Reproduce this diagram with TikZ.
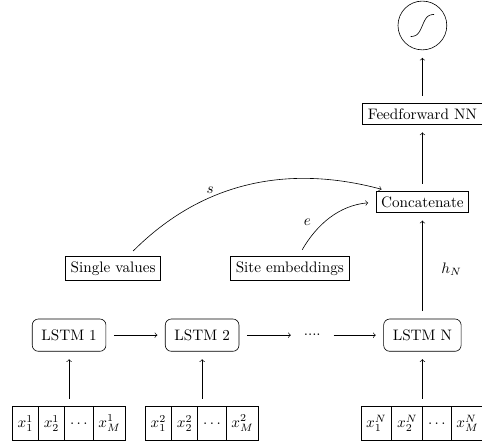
\documentclass[tikz,border=0pt]{standalone}
\usetikzlibrary{shapes.multipart}
\begin{document}
\begin{tikzpicture}[box/.style={draw},lstm/.style={draw,rounded corners,inner xsep=6pt,inner ysep=7pt},vec/.style={draw,rectangle split,rectangle split horizontal,rectangle split parts=4,inner ysep=5.5pt},arr/.style={->,shorten >=5pt,shorten <=5pt}]
    \useasboundingbox(0,0)rectangle(11.16,10.21);
    \node[draw,circle,minimum size=1.13cm](sig)at(9.78,9.62){};
    \draw[shift={(sig.center)},domain=-0.27:0.27,smooth,samples=40]plot(\x,{0.26*tanh(9*\x)});
    \node[box](ff)at(9.78,7.57){Feedforward NN};
    \node[box](cat)at(9.78,5.53){Concatenate};
    \node[box](single)at(2.62,3.99){Single values};
    \node[box](site)at(6.71,3.99){Site embeddings};
    \node[lstm](l1)at(1.6,2.45){LSTM 1};
    \node[lstm](l2)at(4.68,2.45){LSTM 2};
    \node(dots)at(7.23,2.45){....};
    \node[lstm](lN)at(9.78,2.45){LSTM N};
    \node[vec](x1)at(1.6,0.41){$x_1^1$\nodepart{two}$x_2^1$\nodepart{three}$\ldots$\nodepart{four}$x_M^1$};
    \node[vec](x2)at(4.68,0.41){$x_1^2$\nodepart{two}$x_2^2$\nodepart{three}$\ldots$\nodepart{four}$x_M^2$};
    \node[vec](xN)at(9.78,0.41){$x_1^N$\nodepart{two}$x_2^N$\nodepart{three}$\ldots$\nodepart{four}$x_M^N$};
    \draw[arr](x1)--(l1);
    \draw[arr](x2)--(l2);
    \draw[arr](xN)--(lN);
    \draw[arr](l1)--(l2);
    \draw[arr](l2)--(dots);
    \draw[arr](dots)--(lN);
    \draw[arr](lN)--node[pos=0.47,right=9pt](hN){$h_N$}(cat);
    \draw[arr](single.40)to[out=45,in=165]node[pos=0.35,above](s){$s$}(cat.162);
    \draw[arr](site.55)to[out=60,in=185]node[pos=0.3,above left](e){$e$}(cat.west);
    \draw[arr](cat)--(ff);
    \draw[arr](ff)--(sig);
\end{tikzpicture}
\end{document}
